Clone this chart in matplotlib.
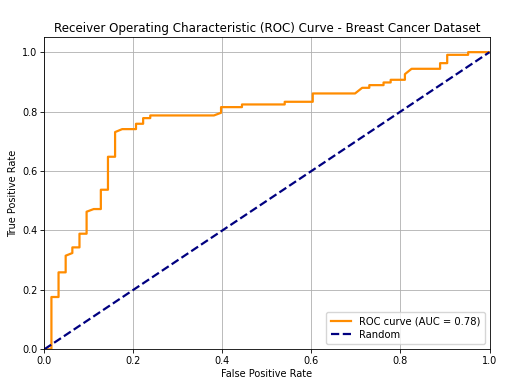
import matplotlib
matplotlib.use("Agg")
import matplotlib.pyplot as plt

# ROC points (test split: 63 negatives, 108 positives)
fpr = [0.0, 0.016, 0.016, 0.032, 0.032, 0.048, 0.048, 0.063, 0.063, 0.079, 0.079,
       0.095, 0.095, 0.111, 0.127, 0.127, 0.143, 0.143, 0.159, 0.159, 0.175,
       0.206, 0.206, 0.222, 0.222, 0.238, 0.238, 0.381, 0.397, 0.397, 0.444,
       0.444, 0.540, 0.540, 0.603, 0.603, 0.698, 0.714, 0.730, 0.730, 0.762,
       0.762, 0.778, 0.778, 0.810, 0.810, 0.825, 0.889, 0.889, 0.905, 0.905,
       0.952, 0.952, 1.0]
tpr = [0.0, 0.0, 0.176, 0.176, 0.259, 0.259, 0.315, 0.324, 0.343, 0.343, 0.389,
       0.389, 0.463, 0.472, 0.472, 0.537, 0.537, 0.648, 0.648, 0.731, 0.741,
       0.741, 0.759, 0.759, 0.778, 0.778, 0.787, 0.787, 0.796, 0.815, 0.815,
       0.824, 0.824, 0.833, 0.833, 0.861, 0.861, 0.880, 0.880, 0.889, 0.889,
       0.898, 0.898, 0.907, 0.907, 0.926, 0.944, 0.944, 0.963, 0.963, 0.991,
       0.991, 1.0, 1.0]
roc_auc = 0.78

diag = [0, 1]
ticks = [0.0, 0.2, 0.4, 0.6, 0.8, 1.0]

fig = plt.figure(figsize=(5.05, 3.87), dpi=100)
ax = fig.add_axes([44.3 / 505, 1 - 349.3 / 387, 445.2 / 505, 312 / 387])

ax.plot(fpr, tpr, color="darkorange", lw=1.6, label=f"ROC curve (AUC = {roc_auc:.2f})")
ax.plot(diag, diag, color="navy", lw=1.6, linestyle="--", label="Random")

ax.set_xlim(0.0, 1.0)
ax.set_ylim(0.0, 1.05)
ax.set_xticks(ticks)
ax.set_yticks(ticks)
ax.tick_params(labelsize=7, length=2.8, width=0.6, pad=2)
ax.set_xlabel("False Positive Rate", fontsize=7, labelpad=2)
ax.set_ylabel("True Positive Rate", fontsize=7, labelpad=3)
ax.set_title("Receiver Operating Characteristic (ROC) Curve - Breast Cancer Dataset",
             fontsize=8.6, pad=4)
ax.grid(True, color="#b0b0b0", lw=0.6)
for s in ax.spines.values():
    s.set_linewidth(0.6)
ax.legend(loc="lower right", fontsize=7.2, framealpha=0.8, handlelength=2.0,
          borderpad=0.45, labelspacing=0.35)

fig.savefig("out.png", dpi=100)
